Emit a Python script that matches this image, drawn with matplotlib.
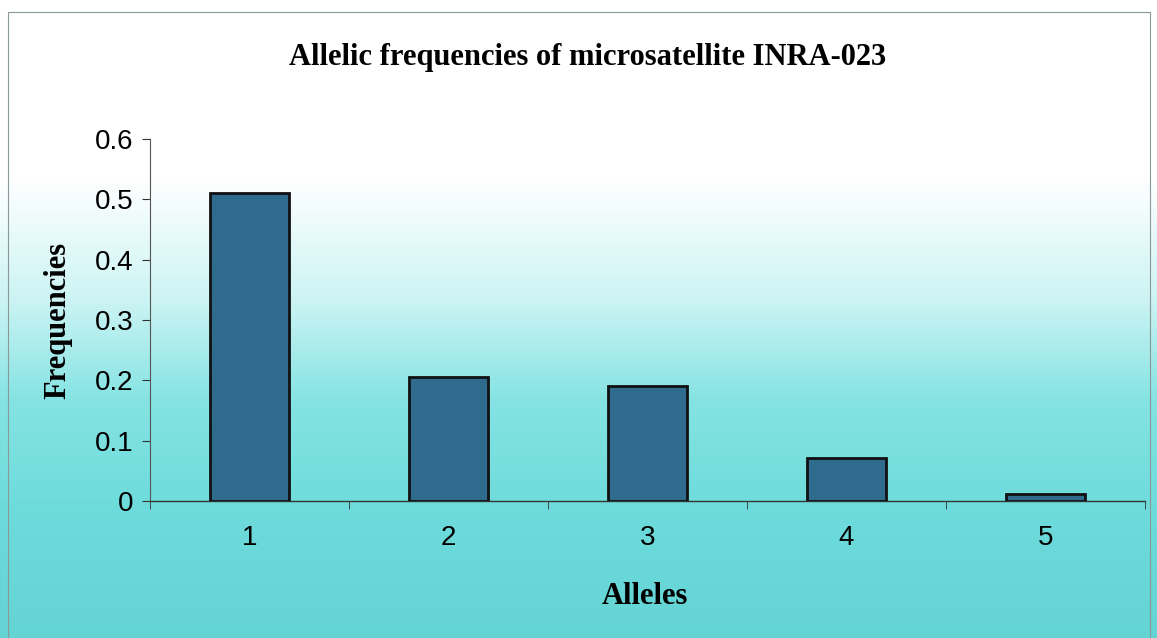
import matplotlib
matplotlib.use("Agg")
import matplotlib.pyplot as plt
import numpy as np
from matplotlib.colors import LinearSegmentedColormap
from matplotlib.patches import Rectangle

alleles = ["1", "2", "3", "4", "5"]
frequencies = [0.51, 0.205, 0.19, 0.072, 0.012]
yticks = [0, 0.1, 0.2, 0.3, 0.4, 0.5, 0.6]
ytick_labels = ["0", "0.1", "0.2", "0.3", "0.4", "0.5", "0.6"]

W, H = 1157, 638
fig = plt.figure(figsize=(W / 100, H / 100), dpi=100)

# background gradient
bg = fig.add_axes([0, 0, 1, 1], zorder=-10)
cmap = LinearSegmentedColormap.from_list(
    "bg",
    [(0.0, (1, 1, 1)), (0.28, (1, 1, 1)), (0.47, (0.80, 0.955, 0.955)),
     (0.63, (0.52, 0.89, 0.89)), (0.80, (0.43, 0.86, 0.86)), (1.0, (0.39, 0.83, 0.83))])
grad = np.linspace(0, 1, 256).reshape(-1, 1)
bg.imshow(grad, aspect="auto", cmap=cmap, extent=[0, 1, 0, 1], origin="upper")
bg.set_xlim(0, 1); bg.set_ylim(0, 1)
bg.axis("off")
bg.add_patch(Rectangle((8 / W, -0.01), (1150 - 8) / W, 1 - 12 / H + 0.01,
                       fill=False, edgecolor="#8a9898", linewidth=0.8))

ax = fig.add_axes([150 / W, 1 - 501 / H, (1145 - 150) / W, (501 - 139) / H])
ax.patch.set_alpha(0)
x = np.arange(1, len(alleles) + 1)
ax.bar(x, frequencies, width=0.4, color="#2e6b8c", edgecolor="#111111", linewidth=2, zorder=3)
ax.set_xlim(0.5, 5.5)
ax.set_ylim(0, 0.6)
ax.set_xticks(x)
ax.set_xticklabels(alleles, fontfamily="Liberation Sans", fontsize=20)
ax.set_xticks(np.arange(0.5, 5.6, 1.0), minor=True)
ax.tick_params(axis="x", which="major", length=0, pad=17)
ax.tick_params(axis="x", which="minor", length=6, direction="out", color="#333333")
ax.set_yticks(yticks)
ax.set_yticklabels(ytick_labels, fontfamily="Liberation Sans", fontsize=20)
ax.tick_params(axis="y", length=6, direction="out", color="#333333", pad=6)
for s in ["top", "right"]:
    ax.spines[s].set_visible(False)
ax.spines["left"].set_color("#555555")
ax.spines["bottom"].set_color("#333333")
ax.spines["left"].set_linewidth(0.8)
ax.spines["bottom"].set_linewidth(1.0)

fig.text(588 / W, 1 - 57 / H, "Allelic frequencies of microsatellite INRA-023",
         ha="center", va="center", fontfamily="Liberation Serif", fontweight="bold", fontsize=22)
fig.text(645 / W, 1 - 597 / H, "Alleles", ha="center", va="center",
         fontfamily="Liberation Serif", fontweight="bold", fontsize=22)
fig.text(58 / W, 1 - 320 / H, "Frequencies", ha="center", va="center", rotation=90,
         fontfamily="Liberation Serif", fontweight="bold", fontsize=22)

fig.savefig("out.png", dpi=100)
